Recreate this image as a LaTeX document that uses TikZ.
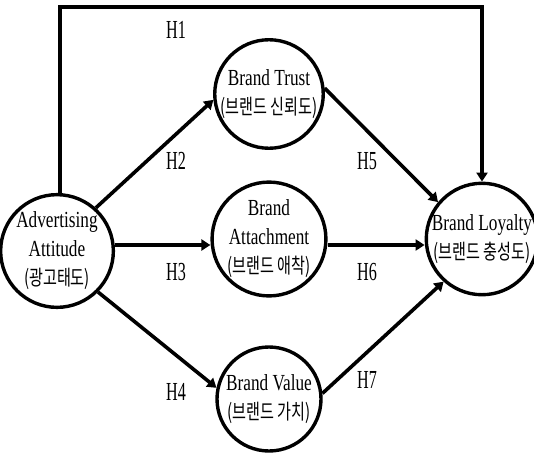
\documentclass[tikz,border=0pt]{standalone}
\usepackage{fontspec}
\setmainfont{Liberation Serif}[FakeStretch=0.75]
\newfontfamily\kr{Noto Sans CJK KR}[FakeStretch=0.72]
\newfontfamily\hfont{Liberation Serif}[FakeStretch=0.62]
\usetikzlibrary{arrows.meta}
\begin{document}
\begin{tikzpicture}[x=1pt,y=-1pt,
  construct/.style={circle,draw,line width=3.4pt,minimum size=104pt,inner sep=0pt,align=center,font=\fontsize{23}{29}\selectfont},
  path/.style={line width=3.6pt,-{Triangle[length=9pt,width=11pt]}},
  hyp/.style={font=\hfont\fontsize{26}{28}\selectfont}]
\newcommand\krt[1]{{\kr\fontsize{21}{29}\selectfont #1}}
\useasboundingbox (0,0) rectangle (534,460);
\node[construct] (aa) at (57,251) {Advertising\\Attitude\\\krt{(광고태도)}};
\node[construct] (bt) at (269,94) {Brand Trust\\\krt{(브랜드 신뢰도)}};
\node[construct] (ba) at (269,239) {Brand\\Attachment\\\krt{(브랜드 애착)}};
\node[construct] (bv) at (269,399) {Brand Value\\\krt{(브랜드 가치)}};
\node[construct,minimum size=102pt] (bl) at (482,239) {Brand Loyalty\\\krt{(브랜드 충성도)}};
\coordinate (c1) at (60,7);
\coordinate (c2) at (482,7);
\coordinate (hy) at (0,245);
\draw[path] (aa.north -| c1) -- (c1) -- (c2) -- (bl.north);
\node[hyp] (h1) at (176,30) {H1};
\node[hyp] (h2) at (176,161) {H2};
\node[hyp] (h3) at (176,272) {H3};
\node[hyp] (h4) at (176,392) {H4};
\node[hyp] (h5) at (367,161) {H5};
\node[hyp] (h6) at (367,272) {H6};
\node[hyp] (h7) at (367,380) {H7};
\draw[path] (aa.48) -- (bt.186);
\draw[path] (aa.east |- hy) -- (ba.west |- hy);
\draw[path] (aa.-45) -- (bv.168);
\draw[path] (bt.6) -- (bl.140);
\draw[path] (ba.east |- hy) -- (bl.west |- hy);
\draw[path] (bv.6) -- (bl.228);
\end{tikzpicture}
\end{document}
